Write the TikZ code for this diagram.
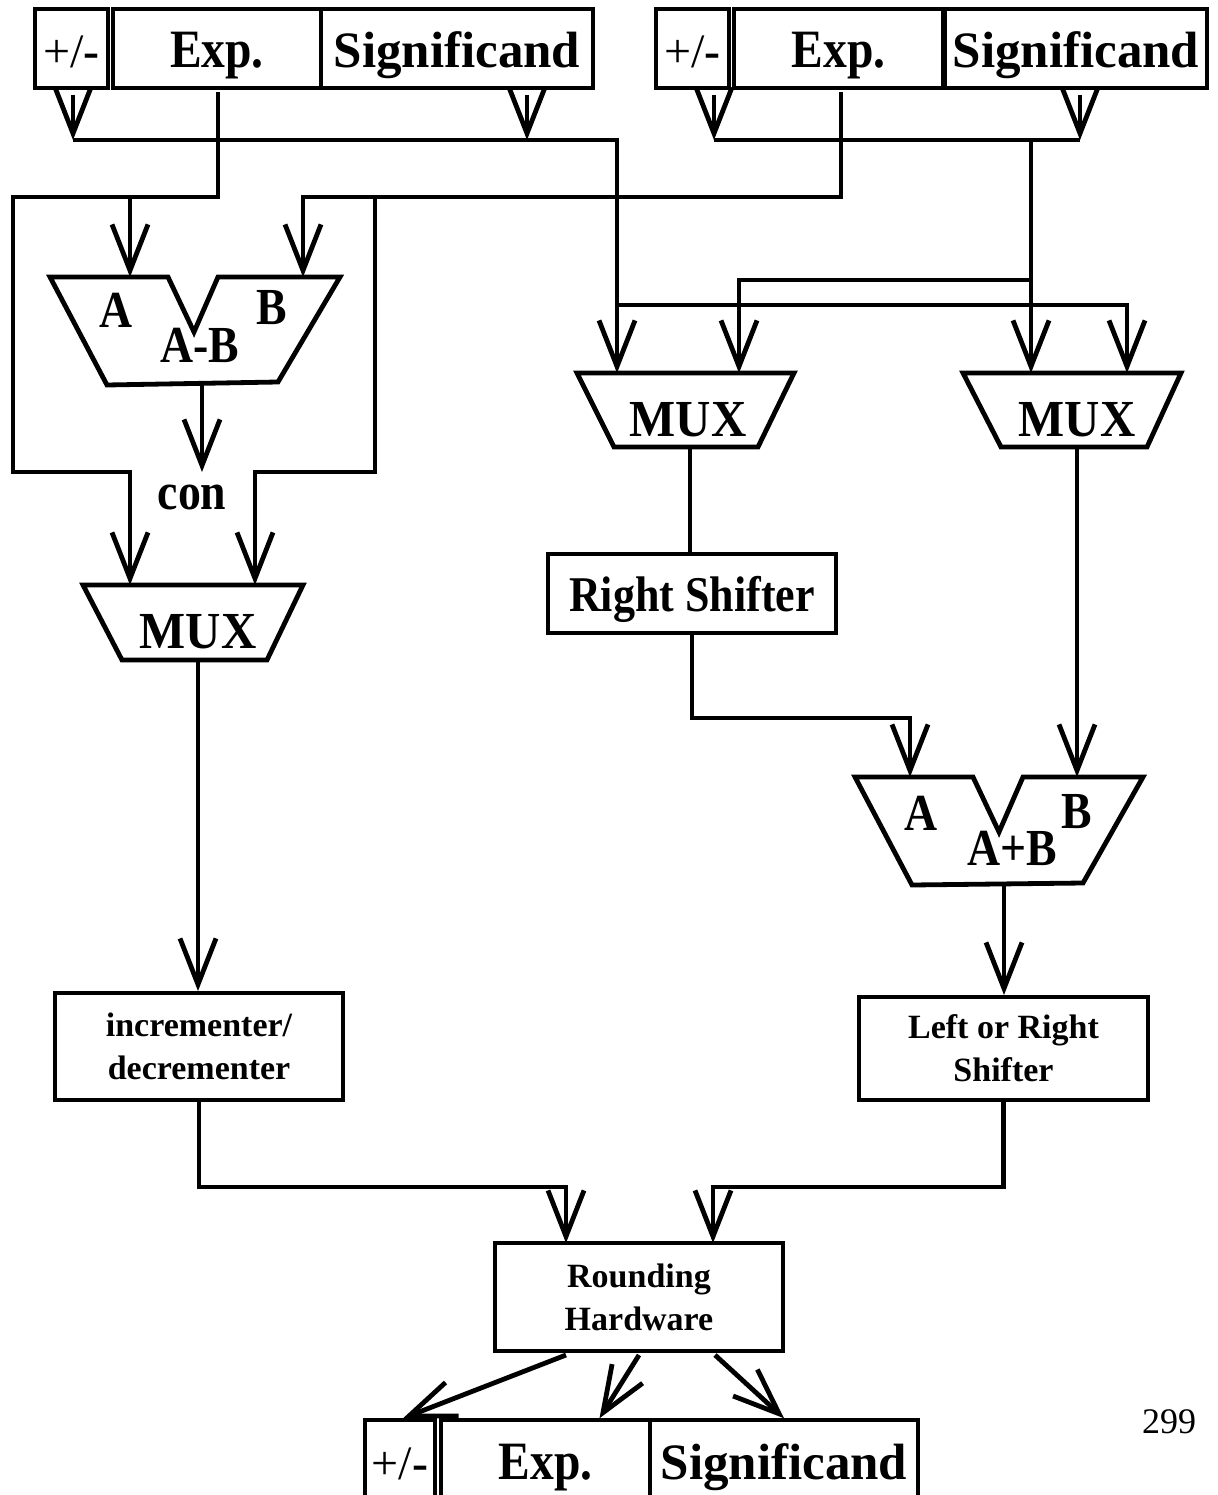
\documentclass[tikz,border=0pt]{standalone}
\usepackage{fontspec}
\setmainfont{Liberation Serif}
\newfontfamily\narrowserif[FakeStretch=0.88]{Liberation Serif}
\usetikzlibrary{arrows.meta}

\begin{document}
\begin{tikzpicture}[x=1pt,y=-1pt,
  wire/.style={line width=4.8pt, line join=miter},
  flow/.style={wire, -{Straight Barb[length=46pt,width=36pt]}},
  unit/.style={draw, line width=4.8pt, line join=miter},
  regbox/.style={draw, line width=3.5pt, inner sep=0pt, minimum height=79pt,
                 text height=39pt, text depth=0pt},
  blockbox/.style={draw, line width=4pt, inner sep=0pt, align=center,
                   font=\bfseries\fontsize{34}{43}\selectfont},
  biglabel/.style={inner sep=0pt, font=\narrowserif\bfseries\fontsize{52}{52}\selectfont},
  muxlabel/.style={inner sep=0pt, font=\bfseries\fontsize{52}{52}\selectfont},
  expfont/.style={font=\narrowserif\bfseries\fontsize{54}{54}\selectfont},
  sigfont/.style={font=\bfseries\fontsize{51}{51}\selectfont},
  signfont/.style={font=\fontsize{48}{48}\selectfont},
]
\fill[white] (0,0) rectangle (1217,1495);
\useasboundingbox (0,0) rectangle (1217,1495);
\clip (0,0) rectangle (1217,1495);

% ---------- operand registers ----------
\node[regbox, signfont, minimum width=73pt]  (sL) at (71.5,48.5)  {+/\textbf{-}};
\node[regbox, expfont,  minimum width=208pt] (eL) at (217,48.5)   {Exp.};
\node[regbox, sigfont,  minimum width=272pt] (fL) at (457,48.5)   {Significand};
\node[regbox, signfont, minimum width=73pt]  (sR) at (692.5,48.5) {+/\textbf{-}};
\node[regbox, expfont,  minimum width=209pt] (eR) at (838.5,48.5) {Exp.};
\node[regbox, sigfont,  minimum width=262pt] (fR) at (1076,48.5)  {Significand};

% ---------- result register ----------
\node[regbox, signfont, minimum width=70pt]  (sB) at (400,1459.5)   {+/\textbf{-}};
\node[regbox, expfont,  minimum width=209pt] (eB) at (545.5,1459.5) {Exp.};
\node[regbox, sigfont,  minimum width=268pt] (fB) at (784,1459.5)   {Significand};

% ---------- exponent subtractor ----------
\draw[unit] (50,277) -- (168,277) -- (194,332) -- (218,277) -- (340,277)
            -- (278,382) -- (107,385) -- cycle;
\node[biglabel] (subA)  at (116,310) {A};
\node[biglabel] (subB)  at (272,308) {B};
\node[biglabel] (subop) at (200,345) {A-B};
\node[biglabel] (con)   at (192,497) {con};

% ---------- significand adder ----------
\draw[unit] (855,777) -- (973,777) -- (999,832) -- (1023,777) -- (1143,777)
            -- (1083,883) -- (912,885) -- cycle;
\node[biglabel] (addA)  at (921,813)  {A};
\node[biglabel] (addB)  at (1077,812) {B};
\node[biglabel] (addop) at (1012,848) {A+B};

% ---------- multiplexers ----------
\draw[unit] (577,373) -- (794,373) -- (758,447) -- (614,447) -- cycle;
\node[muxlabel, xscale=0.94] (muxone) at (688,420) {MUX};
\draw[unit] (963,373) -- (1181,373) -- (1147,447) -- (1001,447) -- cycle;
\node[muxlabel, xscale=0.94] (muxtwo) at (1077,420) {MUX};
\draw[unit] (83,585) -- (303,585) -- (267,660) -- (122,660) -- cycle;
\node[muxlabel, xscale=0.94] (muxthree) at (198,632) {MUX};

% ---------- function blocks ----------
\node[draw, line width=4pt, inner sep=0pt, minimum width=288pt, minimum height=79pt,
      text depth=0pt, font=\narrowserif\bfseries\fontsize{50}{50}\selectfont]
      (rsh) at (692,593.5) {Right Shifter};
\node[blockbox, minimum width=288pt, minimum height=107pt] (incdec) at (199,1046.5)
      {incrementer/\\decrementer};
\node[blockbox, minimum width=289pt, minimum height=103pt] (lrs) at (1003.5,1048.5)
      {Left or Right\\Shifter};
\node[blockbox, minimum width=288pt, minimum height=108pt] (rnd) at (639,1297)
      {Rounding\\Hardware};

\node[inner sep=0pt, font=\fontsize{36}{36}\selectfont] (pageno) at (1169,1422) {299};

% ---------- ports and routing levels ----------
\coordinate (sLo) at (73,95);
\coordinate (eLo) at (218,92);
\coordinate (fLo) at (527,95);
\coordinate (sRo) at (714,95);
\coordinate (eRo) at (841,92);
\coordinate (fRo) at (1080,95);
\coordinate (lbus) at (617,140);
\coordinate (rtap) at (1031,140);
\coordinate (loopL) at (13,197);
\coordinate (loopR) at (375,197);
\coordinate (lvA) at (0,197);
\coordinate (lvB) at (0,280);
\coordinate (lvC) at (0,305);
\coordinate (lvD) at (0,472);
\coordinate (lvE) at (0,718);
\coordinate (lvF) at (0,1187);
\coordinate (m1a) at (617,373);  \coordinate (m1b) at (739,373);  \coordinate (m1o) at (690,447);
\coordinate (m2a) at (1031,373); \coordinate (m2b) at (1127,373); \coordinate (m2o) at (1077,447);
\coordinate (m3a) at (130,585);  \coordinate (m3b) at (255,585);  \coordinate (m3o) at (198,660);
\coordinate (a1a) at (130,277);  \coordinate (a1b) at (303,277);  \coordinate (a1o) at (202,383);
\coordinate (a2a) at (910,777);  \coordinate (a2b) at (1077,777); \coordinate (a2o) at (1004,884);
\coordinate (rA) at (566,1243);  \coordinate (rB) at (713,1243);
\coordinate (q1) at (566,1355);  \coordinate (q2) at (639,1355);  \coordinate (q3) at (715,1355);

% ---------- significand and sign paths ----------
\draw[flow] (sLo) -- (sLo |- lbus);
\draw[flow] (fLo) -- (fLo |- lbus);
\draw[flow] (sLo |- lbus) -- (lbus) -- (m1a);
\draw[flow] (sRo) -- (sRo |- rtap);
\draw[flow] (fRo) -- (fRo |- rtap);
\draw[wire] (sRo |- rtap) -- (fRo |- rtap);
\draw[flow] (rtap) -- (m2a);
\draw[flow] (m2a |- lvB) -- (m1b |- lvB) -- (m1b);
\draw[flow] (m1a |- lvC) -- (m2b |- lvC) -- (m2b);

% ---------- exponent paths ----------
\draw[flow] (eLo) -- (eLo |- lvA) -- (loopL) -- (loopL |- lvD) -- (m3a |- lvD) -- (m3a);
\draw[flow] (a1a |- lvA) -- (a1a);
\draw[flow] (eRo) -- (eRo |- lvA) -- (a1b |- lvA) -- (a1b);
\draw[flow] (loopR) -- (loopR |- lvD) -- (m3b |- lvD) -- (m3b);
\draw[flow] (a1o) -- (a1o |- lvD);
\draw[flow] (m3o) -- (m3o |- incdec.north);

% ---------- datapath to rounding ----------
\draw[wire] (m1o) -- (m1o |- rsh.north);
\draw[flow] (rsh.south) -- (rsh.south |- lvE) -- (a2a |- lvE) -- (a2a);
\draw[flow] (m2o) -- (a2b);
\draw[flow] (a2o) -- (a2o |- lrs.north);
\draw[flow] (incdec.south) -- (incdec.south |- lvF) -- (rA |- lvF) -- (rA);
\draw[flow] (lrs.south) -- (lrs.south |- lvF) -- (rB |- lvF) -- (rB);

% ---------- result write-back ----------
\draw[flow] (q1) -- ([xshift=3pt]sB.north);
\draw[flow] (q2) -- ([xshift=54pt]eB.north);
\draw[flow] (q3) -- (fB.north);
\end{tikzpicture}
\end{document}
